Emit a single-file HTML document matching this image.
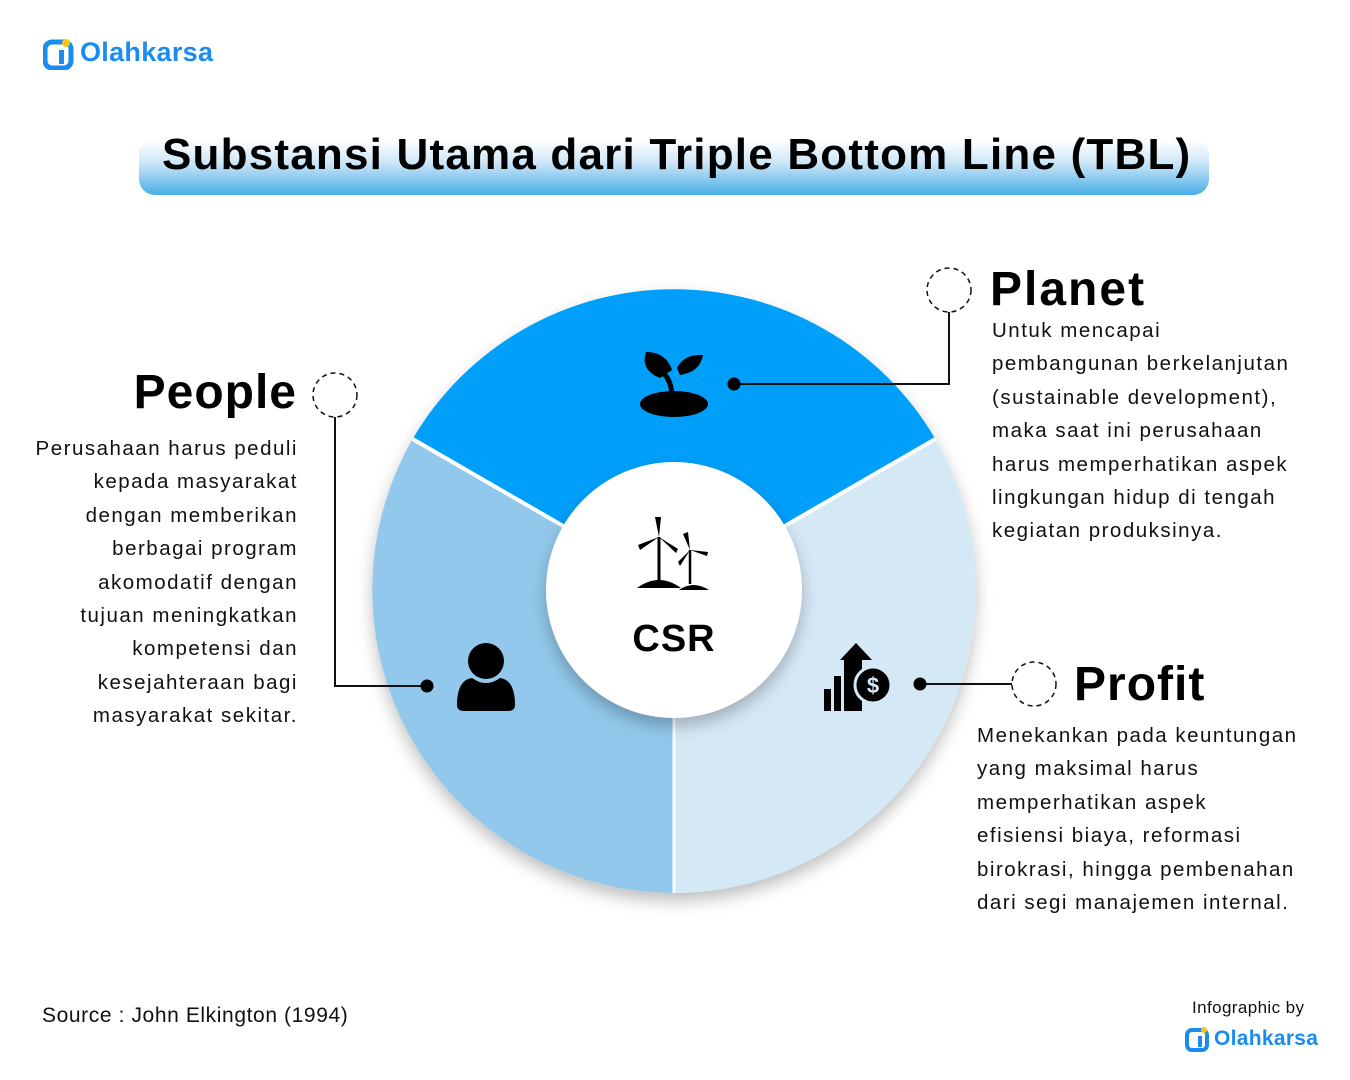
<!DOCTYPE html>
<html><head><meta charset="utf-8"><style>
body{margin:0;width:1350px;height:1080px;background:#fff;position:relative;overflow:hidden;font-family:"Liberation Sans",sans-serif;color:#111}
.a{position:absolute}
.h{font-weight:bold;color:#000}
.p{font-size:20.5px;line-height:33.4px;color:#111;letter-spacing:1.5px}
.logo{font-weight:bold;color:#1a8cf0;letter-spacing:0.3px}
</style></head><body>
<div class="a" style="left:43px;top:38px;width:30px;height:30px;">
<svg width="32" height="32"><rect x="2" y="4" width="26" height="26" rx="7" fill="none" stroke="#1a8cf0" stroke-width="5"/><rect x="14" y="10" width="8" height="12" fill="#fff"/><rect x="16" y="12" width="5" height="14" fill="#1a8cf0"/><circle cx="23" cy="5" r="4" fill="#f5c518"/></svg></div>
<div class="a logo" style="left:80px;top:37px;font-size:27px;">Olahkarsa</div>

<div class="a" style="left:139px;top:140px;width:1070px;height:55px;border-radius:14px 14px 16px 16px;background:linear-gradient(#ffffff 0%,#cfe7f8 40%,#4aaee8 100%)"></div>
<div class="a h" style="left:162px;top:130px;font-size:44px;letter-spacing:1.2px;">Substansi Utama dari Triple Bottom Line (TBL)</div>

<svg class="a" style="left:0;top:0" width="1350" height="1080">
<defs><filter id="s" x="-20%" y="-20%" width="140%" height="140%"><feDropShadow dx="0" dy="8" stdDeviation="8" flood-color="#000" flood-opacity="0.25"/></filter></defs>
<g filter="url(#s)">
<path d="M674 590 L412.6 439 A303 303 0 0 1 935.4 439 Z" fill="#069ffa"/>
<path d="M674 590 L935.4 439 A303 303 0 0 1 674 893 Z" fill="#d5e8f6"/>
<path d="M674 590 L674 893 A303 303 0 0 1 412.6 439 Z" fill="#92c8eb"/>
</g>
<line x1="674" y1="590" x2="412.6" y2="439" stroke="#fff" stroke-width="4"/>
<line x1="674" y1="590" x2="935.4" y2="439" stroke="#fff" stroke-width="4"/>
<line x1="674" y1="590" x2="674" y2="893" stroke="#fff" stroke-width="3"/>
<circle cx="674" cy="590" r="128" fill="#fff" filter="url(#s)"/>
<circle cx="949" cy="290" r="22" fill="none" stroke="#111" stroke-width="1.5" stroke-dasharray="5 4"/>
<polyline points="949,312 949,384 734,384" fill="none" stroke="#111" stroke-width="2"/>
<circle cx="734" cy="384" r="6.5" fill="#000"/>
<circle cx="335" cy="395" r="22" fill="none" stroke="#111" stroke-width="1.5" stroke-dasharray="5 4"/>
<polyline points="335,417 335,686 427,686" fill="none" stroke="#111" stroke-width="2"/>
<circle cx="427" cy="686" r="6.5" fill="#000"/>
<circle cx="1034" cy="684" r="22" fill="none" stroke="#111" stroke-width="1.5" stroke-dasharray="5 4"/>
<line x1="920" y1="684" x2="1012" y2="684" stroke="#111" stroke-width="2"/>
<circle cx="920" cy="684" r="6.5" fill="#000"/>
<ellipse cx="674" cy="404" rx="34" ry="13" fill="#000"/>
<path d="M672 398 Q672 380 662 372" stroke="#000" stroke-width="5" fill="none"/>
<path d="M660 378 Q640 370 646 352 Q666 352 672 370 Z" fill="#000"/>
<path d="M677 368 Q684 354 703 355 Q700 372 680 375 Z" fill="#000"/>
<circle cx="486" cy="661" r="18" fill="#000"/>
<path d="M457 705 Q457 680 472 678 Q486 688 500 678 Q515 680 515 705 Q515 711 508 711 L464 711 Q457 711 457 705Z" fill="#000"/>
<rect x="824" y="689" width="7" height="22" fill="#000"/>
<rect x="834" y="676" width="7" height="35" fill="#000"/>
<rect x="844" y="660" width="8" height="51" fill="#000"/>
<polygon points="840,660 856,643 872,660" fill="#000"/>
<rect x="852" y="656" width="10" height="55" fill="#000"/>
<circle cx="873" cy="685" r="18" fill="#000" stroke="#d5e8f6" stroke-width="3"/>
<text x="873" y="693" text-anchor="middle" font-family="Liberation Sans" font-weight="bold" font-size="22" fill="#d5e8f6">$</text>
<path d="M637 588 Q659 572 681 588 Z M679 590 Q693 580 709 590 Z" fill="#000"/>
<line x1="659" y1="580" x2="659" y2="537" stroke="#000" stroke-width="3"/>
<path d="M659 537 L655 517 L661 517 Z M659 537 L638 545 L640 550 Z M659 537 L678 549 L676 553 Z" fill="#000"/>
<line x1="690" y1="584" x2="690" y2="550" stroke="#000" stroke-width="2.5"/>
<path d="M690 550 L683 534 L688 532 Z M690 550 L708 552 L707 556 Z M690 550 L680 566 L678 562 Z" fill="#000"/>
<text x="674" y="651" text-anchor="middle" font-family="Liberation Sans" font-weight="bold" font-size="38" fill="#000" letter-spacing="1">CSR</text>
</svg>

<div class="a h" style="left:990px;top:262px;font-size:48px;letter-spacing:2px;">Planet</div>
<div class="a p" style="left:992px;top:314px;">Untuk mencapai<br>pembangunan berkelanjutan<br>(sustainable development),<br>maka saat ini perusahaan<br>harus memperhatikan aspek<br>lingkungan hidup di tengah<br>kegiatan produksinya.</div>

<div class="a h" style="left:60px;top:365px;width:237px;text-align:right;font-size:48px;letter-spacing:1px;">People</div>
<div class="a p" style="left:0;top:432px;width:298px;text-align:right;">Perusahaan harus peduli<br>kepada masyarakat<br>dengan memberikan<br>berbagai program<br>akomodatif dengan<br>tujuan meningkatkan<br>kompetensi dan<br>kesejahteraan bagi<br>masyarakat sekitar.</div>

<div class="a h" style="left:1074px;top:657px;font-size:48px;letter-spacing:1px;">Profit</div>
<div class="a p" style="left:977px;top:719px;">Menekankan pada keuntungan<br>yang maksimal harus<br>memperhatikan aspek<br>efisiensi biaya, reformasi<br>birokrasi, hingga pembenahan<br>dari segi manajemen internal.</div>

<div class="a" style="left:42px;top:1004px;font-size:21px;color:#111;letter-spacing:0.6px;">Source : John Elkington (1994)</div>
<div class="a" style="left:1192px;top:998px;font-size:17px;color:#111;letter-spacing:0.4px;">Infographic by</div>
<div class="a" style="left:1185px;top:1026px;">
<svg width="26" height="26"><rect x="2" y="4" width="20" height="20" rx="5" fill="none" stroke="#1a8cf0" stroke-width="4"/><rect x="11" y="8" width="7" height="10" fill="#fff"/><rect x="13" y="10" width="4" height="11" fill="#1a8cf0"/><circle cx="19" cy="4" r="3" fill="#f5c518"/></svg></div>
<div class="a logo" style="left:1214px;top:1027px;font-size:21px;">Olahkarsa</div>
</body></html>
